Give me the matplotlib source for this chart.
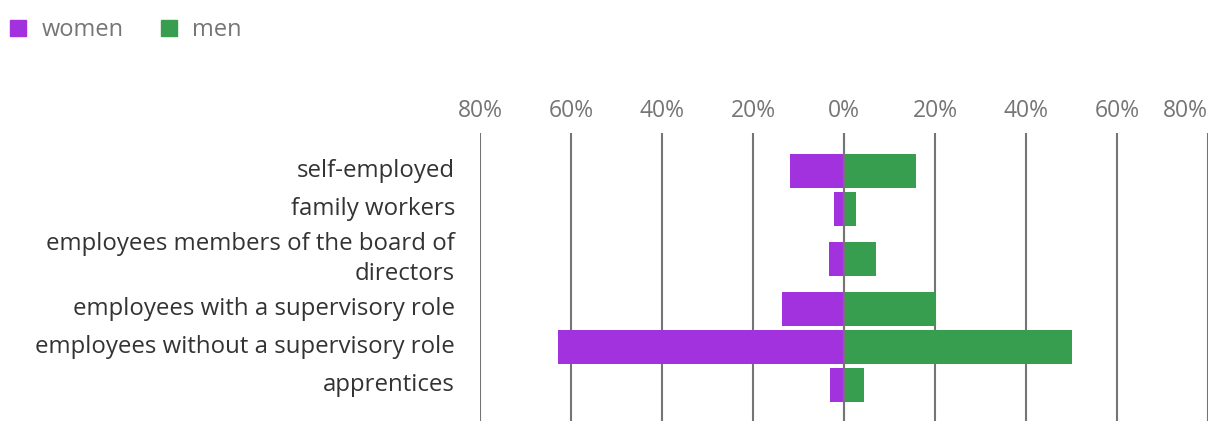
import matplotlib.pyplot as plt
from matplotlib.lines import Line2D

categories = [
    "self-employed",
    "family workers",
    "employees members of the board of\ndirectors",
    "employees with a supervisory role",
    "employees without a supervisory role",
    "apprentices",
]
women = [11.8, 2.1, 3.4, 13.6, 62.8, 3.0]
men = [15.9, 2.6, 7.1, 20.1, 50.1, 4.4]
ticks = [-80, -60, -40, -20, 0, 20, 40, 60, 80]

purple = "#a232de"
green = "#389e4f"
grey = "#757575"

plt.rcParams["font.family"] = ["Open Sans", "DejaVu Sans"]

W, H = 1220, 432
fig = plt.figure(figsize=(W / 100, H / 100), dpi=100)
# axes in pixel units on y so rows can have different heights
ax = fig.add_axes([480 / W, 1 - 421 / H, (1208 - 480) / W, (421 - 133) / H])
ax.set_xlim(-80, 80)
ax.set_ylim(421, 133)

# row layout: two-line labels get a taller row
y = 152
centers = []
for c in categories:
    h = 38 + 24 * c.count("\n")
    centers.append(y + h / 2)
    y += h

ax.barh(centers, [-w for w in women], height=34, color=purple, zorder=2)
ax.barh(centers, men, height=34, color=green, zorder=2)
ax.axvline(0, color=grey, lw=1.5, zorder=3)

ax.set_xticks(ticks)
ax.set_xticklabels([f"{abs(t)}%" for t in ticks])
ax.xaxis.tick_top()
ax.tick_params(axis="x", length=0, pad=7, labelsize=16.5, labelcolor=grey)
ax.get_xticklabels()[-1].set_ha("right")
ax.grid(axis="x", color=grey, lw=1.5, zorder=1)
ax.set_axisbelow(True)
ax.set_yticks([])
for s in ax.spines.values():
    s.set_visible(False)

label_x = -80 - 25 / 728 * 160
for c, yc in zip(categories, centers):
    ax.text(label_x, yc, c, ha="right", va="center",
            fontsize=17.3, color="#333333", linespacing=1.35,
            multialignment="right")

handles = [Line2D([], [], marker="s", ls="", color=purple, markersize=11.5),
           Line2D([], [], marker="s", ls="", color=green, markersize=11.5)]
fig.legend(handles, ["women", "men"], loc="upper left",
           bbox_to_anchor=(-3 / W, 1 - 9 / H), ncol=2, frameon=False,
           fontsize=17, labelcolor=grey, handletextpad=0.5,
           columnspacing=1.4, handlelength=1.0, borderaxespad=0.0)

fig.savefig("out.png", dpi=100)
